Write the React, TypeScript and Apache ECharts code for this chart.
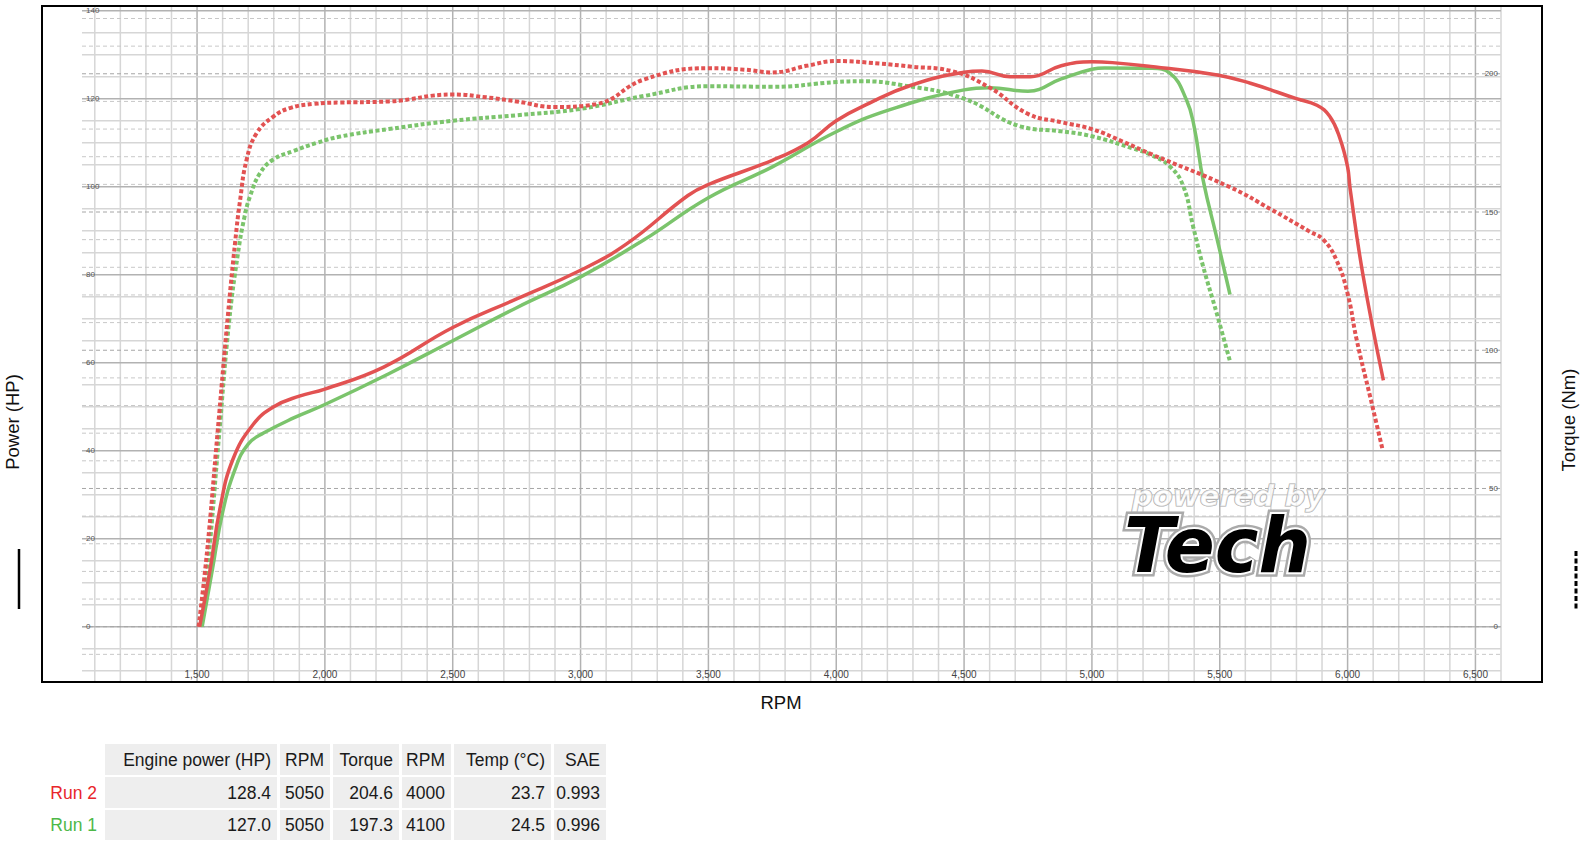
import React, { useEffect, useRef } from 'react';
import * as echarts from 'echarts';

// ---------- data ----------
const rpmLabels = [1500, 2000, 2500, 3000, 3500, 4000, 4500, 5000, 5500, 6000, 6500];
const torqueLabels = [0, 50, 100, 150, 200];

const run2PowerRpm = [1510, 1551, 1590, 1640, 1720, 1800, 1900, 2000, 2230, 2500, 2750, 3000, 3180, 3420, 3500, 3750, 3890, 4000, 4130, 4290, 4500, 4570, 4680, 4760, 4880, 5000, 5080, 5230, 5490, 5620, 5800, 5880, 5930, 5970, 6000, 6010, 6060, 6140];
const run2PowerHp = [0, 13, 27, 38, 46, 50, 52.4, 54, 59, 68, 74.5, 81, 87, 98, 100.5, 106, 110, 115, 119, 123, 126, 126.3, 125, 125, 127.5, 128.4, 128.2, 127.3, 125.4, 123.5, 120, 118.5, 116, 111, 104.5, 99.5, 80, 56];

const run1PowerRpm = [1520, 1560, 1600, 1650, 1700, 1760, 1880, 2000, 2250, 2500, 2750, 3000, 3250, 3500, 3750, 4000, 4210, 4500, 4600, 4750, 4880, 5000, 5050, 5230, 5305, 5370, 5400, 5435, 5490, 5540];
const run1PowerHp = [0, 13, 26, 36, 41.5, 44, 47.5, 50.5, 57.5, 65, 72.5, 79.5, 88, 97.5, 104.5, 112.5, 117.5, 122, 122.5, 121.7, 124.5, 126.7, 127, 126.9, 125.8, 119.7, 113.6, 101.5, 88, 75.5];

const run2TorqueRpm = [1506, 1540, 1580, 1620, 1650, 1668, 1694, 1733, 1798, 1863, 1955, 2060, 2250, 2500, 2630, 2750, 2900, 3060, 3250, 3500, 3640, 3750, 3890, 4000, 4170, 4290, 4450, 4600, 4750, 4880, 5000, 5120, 5230, 5540, 5700, 5850, 5905, 5957, 6000, 6035, 6090, 6137];
const run2TorqueNm = [0, 28, 70, 112, 140, 154, 169, 178.5, 184.5, 187.6, 189.1, 189.6, 190, 192.5, 191.5, 190, 188, 189, 198, 202, 201.5, 200.5, 203, 204.6, 203.7, 202.6, 201, 195, 185.5, 182.5, 180, 175.5, 171, 159, 151, 143, 140, 132.5, 120.5, 104, 82.5, 64];

const run1TorqueRpm = [1514, 1545, 1585, 1625, 1660, 1685, 1707, 1746, 1798, 1876, 1968, 2060, 2250, 2500, 2750, 3000, 3250, 3500, 3750, 4000, 4100, 4250, 4500, 4720, 4880, 5000, 5160, 5230, 5305, 5358, 5396, 5435, 5488, 5540];
const run1TorqueNm = [0, 25, 68, 110, 135, 148, 155.6, 164, 169, 172, 175, 177.3, 180, 183, 185, 187.3, 192, 195.5, 195.3, 197, 197.3, 196, 191, 181, 179.2, 177.4, 173, 170.7, 166.5, 159.2, 144.7, 130.3, 113.4, 96];

const tableHeaders = ['Engine power (HP)', 'RPM', 'Torque', 'RPM', 'Temp (°C)', 'SAE'];
const runNames = ['Run 2', 'Run 1'];
const runColors = ['#e8262b', '#4db848'];
const maxPowerHp = ['128.4', '127.0'];
const maxPowerRpm = ['5050', '5050'];
const maxTorqueNm = ['204.6', '197.3'];
const maxTorqueRpm = ['4000', '4100'];
const tempC = ['23.7', '24.5'];
const saeFactor = ['0.993', '0.996'];

// ---------- helpers ----------
const range = (a: number, b: number, s: number) => {
  const r: number[] = [];
  for (let v = a; v <= b + 1e-9; v += s) r.push(Math.round(v * 1000) / 1000);
  return r;
};
const zip = (xs: number[], ys: number[]) => xs.map((x, i) => [x, ys[i]]);

const RED = '#e25252';
const GREEN = '#7bc46c';
const X_MIN = 1050, X_MAX = 6600;
const HP_MIN = -10, HP_MAX = 140;
const NM_PER_HP = 10 / (2 * Math.PI);
const FONT = '"Liberation Sans", Arial, sans-serif';

const vGrid = range(1100, 6600, 100);
const hpGrid = range(-10, 140, 5);
const nmGrid = range(-10, 220, 10);

function buildTable(): any[] {
  const els: any[] = [];
  const cols = [[105, 277], [280, 330], [333, 399], [402, 451], [454, 551], [554, 606]];
  const rows = [[744, 775], [777, 808], [810, 840]];
  const rowValues = runNames.map((_, i) => [maxPowerHp[i], maxPowerRpm[i], maxTorqueNm[i], maxTorqueRpm[i], tempC[i], saeFactor[i]]);
  const allRows = [tableHeaders, ...rowValues];
  allRows.forEach((vals, r) => {
    const [y0, y1] = rows[r];
    vals.forEach((txt, c) => {
      const [x0, x1] = cols[c];
      els.push({ type: 'rect', shape: { x: x0, y: y0, width: x1 - x0, height: y1 - y0 }, style: { fill: '#eeeeee' }, silent: true });
      els.push({ type: 'text', x: x1 - 6, y: (y0 + y1) / 2, style: { text: txt, fill: '#1a1a1a', font: `17.5px ${FONT}`, align: 'right', verticalAlign: 'middle' }, silent: true });
    });
    if (r > 0) {
      els.push({ type: 'text', x: 97, y: (y0 + y1) / 2, style: { text: runNames[r - 1], fill: runColors[r - 1], font: `17.5px ${FONT}`, align: 'right', verticalAlign: 'middle' }, silent: true });
    }
  });
  return els;
}

export default function App() {
  const ref = useRef<HTMLDivElement>(null);
  useEffect(() => {
    if (!ref.current) return;
    const chart = echarts.init(ref.current, undefined, { renderer: 'svg' });
    const lineSeries = (name: string, data: number[][], color: string, yIdx: number, dashed: boolean) => ({
      type: 'line', name, data, xAxisIndex: 0, yAxisIndex: yIdx, showSymbol: false, symbol: 'none',
      smooth: 0.45, z: 3, silent: true,
      lineStyle: { color, width: dashed ? 4 : 3.5, type: dashed ? [4, 2.5] : 'solid', cap: 'butt' },
    });
    const option: any = {
      animation: false,
      backgroundColor: '#ffffff',
      grid: { left: 82, right: 84, top: 10.7, bottom: 170.3, containLabel: false },
      xAxis: [{
        type: 'value', min: X_MIN, max: X_MAX, position: 'bottom',
        axisLine: { show: false }, axisTick: { show: false }, splitLine: { show: false },
        axisLabel: {
          customValues: rpmLabels, formatter: (v: number) => v.toLocaleString('en-US'),
          fontSize: 10, color: '#444', fontFamily: FONT, verticalAlign: 'middle', margin: 4,
        },
        z: 4,
      }],
      yAxis: [
        {
          type: 'value', min: HP_MIN, max: HP_MAX, interval: 5, position: 'left',
          axisLine: { show: false }, axisTick: { show: false }, splitLine: { show: false },
          axisLabel: {
            inside: true, margin: 4, fontSize: 8, color: '#555', fontFamily: FONT,
            formatter: (v: number) => (v >= 0 && v % 20 === 0 ? String(v) : ''),
          },
          z: 4,
        },
        {
          type: 'value', min: HP_MIN * NM_PER_HP, max: HP_MAX * NM_PER_HP, position: 'right',
          axisLine: { show: false }, axisTick: { show: false }, splitLine: { show: false },
          axisLabel: { inside: true, margin: 3, fontSize: 8, color: '#555', fontFamily: FONT, customValues: torqueLabels },
          z: 4,
        },
      ],
      series: [
        {
          type: 'custom', coordinateSystem: 'cartesian2d', xAxisIndex: 0, yAxisIndex: 0, silent: true, z: 0, clip: false,
          data: vGrid.map((v) => [v, 0]),
          renderItem: (_p: any, api: any) => {
            const v = api.value(0);
            const a = api.coord([v, 141.1]);
            const b = api.coord([v, -12.6]);
            return { type: 'line', shape: { x1: a[0], y1: a[1], x2: b[0], y2: b[1] }, style: { stroke: v % 500 === 0 ? '#b2b2b2' : '#d6d6d6', lineWidth: 1.5 } };
          },
        },
        {
          type: 'custom', coordinateSystem: 'cartesian2d', xAxisIndex: 0, yAxisIndex: 0, silent: true, z: 0, clip: false,
          data: hpGrid.map((v) => [X_MIN, v]),
          renderItem: (_p: any, api: any) => {
            const v = api.value(1);
            const a = api.coord([X_MIN, v]);
            const b = api.coord([X_MAX, v]);
            return { type: 'line', shape: { x1: a[0], y1: a[1], x2: b[0], y2: b[1] }, style: { stroke: v % 20 === 0 ? '#b2b2b2' : '#d6d6d6', lineWidth: 1.5 } };
          },
        },
        {
          type: 'custom', coordinateSystem: 'cartesian2d', xAxisIndex: 0, yAxisIndex: 1, silent: true, z: 1, clip: false,
          data: nmGrid.map((v) => [X_MIN, v]),
          renderItem: (_p: any, api: any) => {
            const v = api.value(1);
            const a = api.coord([X_MIN, v]);
            const b = api.coord([X_MAX, v]);
            return { type: 'line', shape: { x1: a[0], y1: a[1], x2: b[0], y2: b[1] }, style: { stroke: v % 50 === 0 ? '#a6a6a6' : '#c8c8c8', lineWidth: 1, lineDash: [4, 3] } };
          },
        },
        lineSeries('Run 1 Torque', zip(run1TorqueRpm, run1TorqueNm), GREEN, 1, true),
        lineSeries('Run 1 Power', zip(run1PowerRpm, run1PowerHp), GREEN, 0, false),
        lineSeries('Run 2 Torque', zip(run2TorqueRpm, run2TorqueNm), RED, 1, true),
        lineSeries('Run 2 Power', zip(run2PowerRpm, run2PowerHp), RED, 0, false),
      ],
      graphic: [
        { type: 'rect', shape: { x: 42, y: 6, width: 1500, height: 676 }, style: { fill: 'none', stroke: '#000', lineWidth: 2 }, silent: true, z: 10 },
        // logo
        { type: 'text', x: 1132, y: 496, scaleX: 1.04, z: 5, silent: true, style: { text: 'powered by', font: `italic bold 28px "DejaVu Sans"`, fill: 'rgba(255,255,255,0.7)', stroke: '#a8a8a8', lineWidth: 1.2, align: 'left', verticalAlign: 'middle' } },
        { type: 'text', x: 1124, y: 546, scaleX: 0.97, z: 5, silent: true, style: { text: 'Tech', font: `italic bold 76px "DejaVu Sans"`, fill: '#aaaaaa', stroke: '#aaaaaa', lineWidth: 9, align: 'left', verticalAlign: 'middle' } },
        { type: 'text', x: 1124, y: 546, scaleX: 0.97, z: 6, silent: true, style: { text: 'Tech', font: `italic bold 76px "DejaVu Sans"`, fill: '#000000', stroke: '#ffffff', lineWidth: 4, align: 'left', verticalAlign: 'middle' } },
        // axis names
        { type: 'text', x: 781, y: 702, silent: true, style: { text: 'RPM', font: `18.5px ${FONT}`, fill: '#111', align: 'center', verticalAlign: 'middle' } },
        { type: 'text', x: 12, y: 422, rotation: Math.PI / 2, silent: true, style: { text: 'Power (HP)', font: `18.5px ${FONT}`, fill: '#111', align: 'center', verticalAlign: 'middle' } },
        { type: 'text', x: 1568, y: 420, rotation: Math.PI / 2, silent: true, style: { text: 'Torque (Nm)', font: `18.5px ${FONT}`, fill: '#111', align: 'center', verticalAlign: 'middle' } },
        // line-style keys
        { type: 'line', shape: { x1: 19, y1: 549, x2: 19, y2: 609 }, style: { stroke: '#000', lineWidth: 2.5 }, silent: true },
        { type: 'line', shape: { x1: 1576, y1: 551, x2: 1576, y2: 610 }, style: { stroke: '#000', lineWidth: 3, lineDash: [5, 2.5] }, silent: true },
        ...buildTable(),
      ],
    };
    chart.setOption(option);
    return () => chart.dispose();
  }, []);
  return <div ref={ref} style={{ position: 'fixed', left: 0, top: 0, width: '1585px', height: '841px' }} />;
}
